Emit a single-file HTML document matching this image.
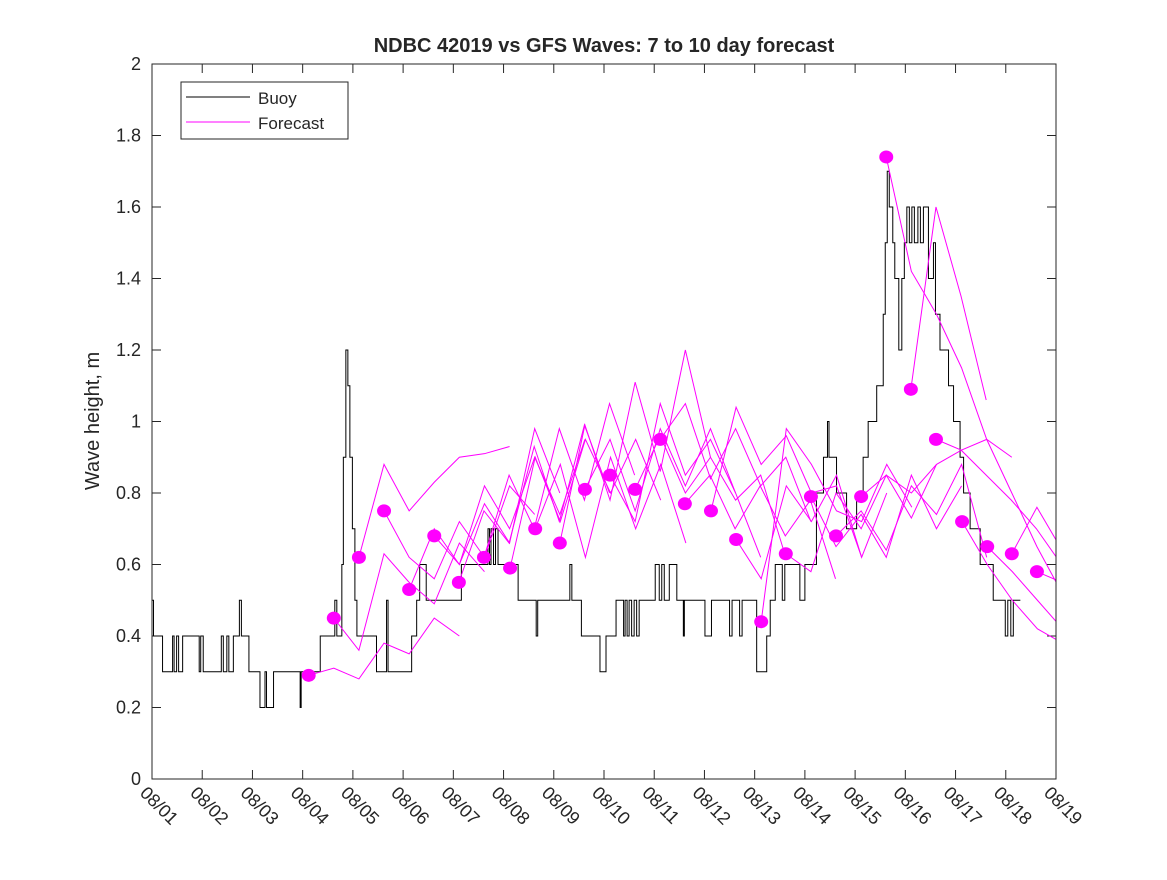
<!DOCTYPE html>
<html><head><meta charset="utf-8"><style>
body{margin:0;background:#fff;}
svg text{font-family:"Liberation Sans","DejaVu Sans",sans-serif;fill:#262626;}
</style></head><body>
<svg id="chart" width="1167" height="875" xmlns="http://www.w3.org/2000/svg">
<rect width="1167" height="875" fill="#fff"/>
<defs><clipPath id="clip"><rect x="152" y="64" width="904" height="715"/></clipPath></defs>
<text x="604" y="52" font-size="20" font-weight="bold" text-anchor="middle">NDBC 42019 vs GFS Waves: 7 to 10 day forecast</text>
<text transform="translate(99,421) rotate(-90)" font-size="20" text-anchor="middle">Wave height, m</text>
<g id="ticks"></g>
<g id="plot" clip-path="url(#clip)"></g>
<rect x="152" y="64" width="904" height="715" fill="none" stroke="#262626" stroke-width="1"/>
<g>
<rect x="181" y="82" width="167" height="57" fill="#fff" stroke="#262626"/>
<line x1="186" y1="97" x2="250" y2="97" stroke="#000"/>
<text x="258" y="104" font-size="17">Buoy</text>
<line x1="186" y1="122" x2="250" y2="122" stroke="#f0f"/>
<text x="258" y="129" font-size="17">Forecast</text>
</g>
</svg>
<script>
const xTickLabels=["08/01","08/02","08/03","08/04","08/05","08/06","08/07","08/08","08/09","08/10","08/11","08/12","08/13","08/14","08/15","08/16","08/17","08/18","08/19"];
const yTicks=[0,0.2,0.4,0.6,0.8,1,1.2,1.4,1.6,1.8,2];
const buoyT=[0,0.03,0.21,0.41,0.44,0.49,0.53,0.61,0.94,0.97,1.02,1.38,1.42,1.49,1.53,1.62,1.74,1.78,1.93,2.15,2.25,2.28,2.42,2.95,2.97,3.35,3.64,3.68,3.78,3.81,3.86,3.9,3.94,3.99,4.04,4.08,4.47,4.67,4.7,4.87,5.17,5.27,5.33,5.46,6.16,6.69,6.72,6.75,6.8,6.84,6.89,7.29,7.65,7.68,8.32,8.36,8.55,8.92,9.04,9.24,9.39,9.42,9.46,9.5,9.55,9.6,9.65,9.7,10.02,10.1,10.15,10.2,10.3,10.45,10.58,10.6,11.01,11.14,11.5,11.55,11.7,11.75,12.04,12.24,12.31,12.41,12.55,12.6,12.9,13.0,13.23,13.37,13.45,13.48,13.63,13.83,14.03,14.16,14.26,14.43,14.56,14.6,14.64,14.68,14.75,14.79,14.87,14.93,14.98,15.03,15.08,15.13,15.18,15.25,15.3,15.36,15.46,15.56,15.6,15.69,15.86,15.96,16.09,16.16,16.29,16.49,16.75,16.99,17.04,17.1,17.15,17.29];
const buoyV=[0.5,0.4,0.3,0.4,0.3,0.4,0.3,0.4,0.3,0.4,0.3,0.4,0.3,0.4,0.3,0.4,0.5,0.4,0.3,0.2,0.3,0.2,0.3,0.2,0.3,0.4,0.5,0.4,0.6,0.9,1.2,1.1,0.9,0.7,0.5,0.4,0.3,0.5,0.3,0.3,0.4,0.5,0.6,0.5,0.6,0.7,0.6,0.7,0.6,0.7,0.6,0.5,0.4,0.5,0.6,0.5,0.4,0.3,0.4,0.5,0.4,0.5,0.4,0.5,0.4,0.5,0.4,0.5,0.6,0.5,0.6,0.5,0.6,0.5,0.4,0.5,0.4,0.5,0.4,0.5,0.4,0.5,0.3,0.4,0.5,0.6,0.5,0.6,0.5,0.6,0.8,0.9,1.0,0.9,0.8,0.7,0.8,0.9,1.0,1.1,1.3,1.5,1.7,1.6,1.5,1.4,1.2,1.4,1.5,1.6,1.5,1.6,1.5,1.6,1.5,1.6,1.4,1.5,1.3,1.2,1.1,1.0,0.9,0.8,0.7,0.6,0.5,0.4,0.5,0.4,0.5,0.5];
const dotT=[3.12,3.62,4.12,4.62,5.12,5.62,6.11,6.61,7.13,7.63,8.12,8.62,9.12,9.62,10.12,10.61,11.13,11.63,12.13,12.62,13.12,13.62,14.12,14.62,15.11,15.61,16.13,16.63,17.12,17.62];
const dotV=[0.29,0.45,0.62,0.75,0.53,0.68,0.55,0.62,0.59,0.70,0.66,0.81,0.85,0.81,0.95,0.77,0.75,0.67,0.44,0.63,0.79,0.68,0.79,1.74,1.09,0.95,0.72,0.65,0.63,0.58];
const fc0=[0.29,0.31,0.28,0.38,0.35,0.45,0.40];
const fc1=[0.45,0.36,0.63,0.55,0.49,0.66,0.58];
const fc2=[0.62,0.88,0.75,0.83,0.90,0.91,0.93];
const fc3=[0.75,0.62,0.56,0.72,0.62,0.82,0.74];
const fc4=[0.53,0.70,0.60,0.77,0.66,0.98,0.80];
const fc5=[0.68,0.60,0.82,0.70,0.90,0.74,0.95];
const fc6=[0.55,0.75,0.66,0.93,0.72,0.99,0.80];
const fc7=[0.62,0.85,0.70,0.98,0.78,1.05,0.85];
const fc8=[0.59,0.90,0.72,0.95,0.80,0.95,0.78];
const fc9=[0.70,0.88,0.62,0.90,0.70,0.88,0.66];
const fc10=[0.66,0.99,0.78,1.11,0.86,1.20,0.90];
const fc11=[0.81,0.95,0.75,0.98,0.82,0.98,0.80];
const fc12=[0.85,0.72,1.05,0.85,0.95,0.80,0.62];
const fc13=[0.81,0.96,0.80,0.90,0.78,0.85,0.62];
const fc14=[0.95,1.05,0.84,0.98,0.82,0.90,0.72];
const fc15=[0.77,0.85,0.70,0.82,0.68,0.78,0.56];
const fc16=[0.75,1.04,0.88,0.96,0.80,0.82,0.62];
const fc17=[0.67,0.56,0.82,0.72,0.85,0.62,0.80];
const fc18=[0.44,0.98,0.88,0.75,0.72,0.88,0.76];
const fc19=[0.63,0.58,0.80,0.70,0.85,0.73,0.88];
const fc20=[0.79,0.65,0.74,0.62,0.85,0.70,0.82];
const fc21=[0.68,0.75,0.64,0.82,0.74,0.88,0.62];
const fc22=[0.79,0.85,0.80,0.88,0.92,0.95,0.90];
const fc23=[1.74,1.42,1.30,1.15,0.95,0.80,0.65,0.52];
const fc24=[1.09,1.60,1.35,1.06];
const fc25=[0.95,0.92,0.85,0.78,0.70,0.60,0.50];
const fc26=[0.72,0.60,0.50,0.42,0.38,0.32,0.27];
const fc27=[0.65,0.58,0.50,0.42,0.35,0.30];
const fc28=[0.63,0.76,0.64,0.55,0.45,0.40];
const fc29=[0.58,0.55,0.48,0.40];
const forecasts=[fc0,fc1,fc2,fc3,fc4,fc5,fc6,fc7,fc8,fc9,fc10,fc11,fc12,fc13,fc14,fc15,fc16,fc17,fc18,fc19,fc20,fc21,fc22,fc23,fc24,fc25,fc26,fc27,fc28,fc29];

const NS="http://www.w3.org/2000/svg";
const X=d=>152+d*(904/18);
const Y=v=>779-v*357.5;
function mk(tag,attrs,parent){const e=document.createElementNS(NS,tag);for(const k in attrs)e.setAttribute(k,attrs[k]);parent.appendChild(e);return e;}
const ticks=document.getElementById('ticks');
const plot=document.getElementById('plot');
xTickLabels.forEach((lab,i)=>{
  const x=X(i);
  const tl=mk('line',{x1:x,y1:779,x2:x,y2:770,stroke:'#262626'},ticks);
  
  
  const t2=mk('line',{x1:x,y1:64,x2:x,y2:73,stroke:'#262626'},ticks);
  
  
  const t=mk('text',{transform:`translate(${x-13},${794}) rotate(45)`,'font-size':18},ticks);
  t.textContent=lab;
  
  
});
yTicks.forEach(v=>{
  const y=Y(v);
  const a=mk('line',{x1:152,y1:y,x2:161,y2:y,stroke:'#262626'},ticks);
  
  
  const b=mk('line',{x1:1056,y1:y,x2:1047,y2:y,stroke:'#262626'},ticks);
  
  
  const t=mk('text',{x:141,y:y+6,'font-size':18,'text-anchor':'end'},ticks);
  t.textContent=String(v);
  
  
});
let d='';
for(let i=0;i<buoyT.length;i++){
  const x=X(buoyT[i]),y=Y(buoyV[i]);
  if(i===0)d+=`M${x},${y}`;else d+=`L${x},${Y(buoyV[i-1])}L${x},${y}`;
}
const bp=mk('path',{d:d,fill:'none',stroke:'#000','stroke-width':1},plot);


forecasts.forEach((arr,k)=>{
  const pts=arr.map((v,j)=>`${X(dotT[k]+j*0.5)},${Y(v)}`).join(' ');
  const pl=mk('polyline',{points:pts,fill:'none',stroke:'#f0f','stroke-width':1},plot);
  
  
});
dotT.forEach((t,i)=>{
  const c=mk('ellipse',{cx:X(t),cy:Y(dotV[i]),rx:7,ry:6.5,fill:'#f0f'},plot);
  
  
});
</script>
</body></html>
